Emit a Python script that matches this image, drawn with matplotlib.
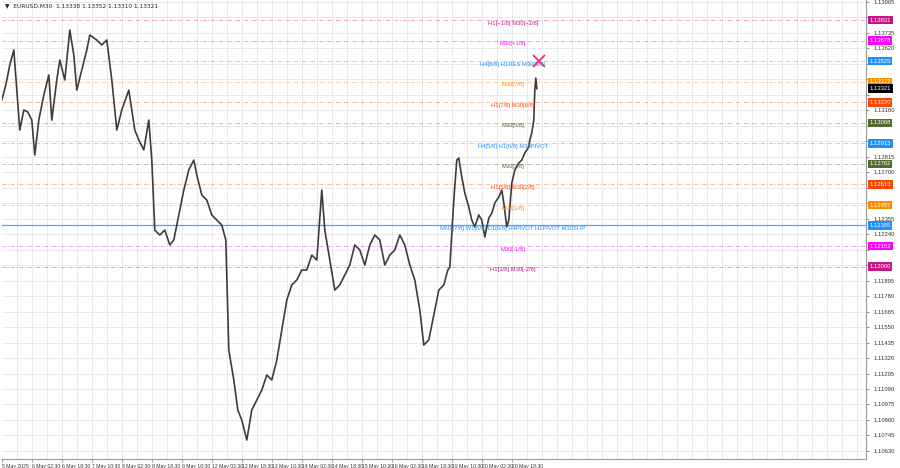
import matplotlib
matplotlib.use("Agg")
import matplotlib.pyplot as plt
import matplotlib.transforms as mtransforms
import numpy as np

plt.rcParams["font.family"] = ["Liberation Sans", "DejaVu Sans"]

# price path (bar position, close)
bar_pos = [0, 4, 8, 12, 15, 18, 22, 26, 30, 33, 37, 42, 47, 50, 55, 58, 63, 68, 72, 75,
           80, 85, 88, 95, 100, 105, 110, 115, 120, 127, 133, 137, 142, 147, 150, 153, 158, 163, 168, 172,
           177, 182, 187, 192, 195, 200, 205, 210, 215, 220, 224, 227, 232, 236, 240, 245, 250, 255, 260, 265,
           270, 275, 280, 285, 290, 295, 300, 305, 310, 315, 320, 323, 328, 333, 338, 343, 348, 353, 358, 363,
           368, 373, 378, 383, 388, 393, 398, 403, 408, 413, 418, 422, 427, 432, 437, 442, 446, 448, 452, 455,
           457, 460, 463, 467, 470, 473, 477, 480, 483, 487, 490, 493, 497, 500, 502, 505, 507, 510, 513, 517,
           520, 523, 527, 528, 530, 532, 533, 534, 535]
close = [1.13237, 1.13348, 1.13497, 1.13609, 1.13311, 1.13014, 1.13163, 1.13148, 1.13088, 1.12828,
         1.13088, 1.13274, 1.13423, 1.13088, 1.13386, 1.13534, 1.13386, 1.13757, 1.13571, 1.13311,
         1.13460, 1.13609, 1.13720, 1.13683, 1.13646, 1.13683, 1.13386, 1.13014, 1.13163, 1.13311,
         1.13014, 1.12940, 1.12866, 1.13088, 1.12791, 1.12271, 1.12234, 1.12271, 1.12160, 1.12197,
         1.12383, 1.12568, 1.12717, 1.12791, 1.12680, 1.12531, 1.12494, 1.12383, 1.12345, 1.12308,
         1.12197, 1.11380, 1.11157, 1.10934, 1.10859, 1.10711, 1.10934, 1.11008, 1.11082, 1.11194,
         1.11157, 1.11305, 1.11528, 1.11751, 1.11863, 1.11900, 1.11974, 1.11974, 1.12085, 1.12048,
         1.12568, 1.12271, 1.12048, 1.11825, 1.11863, 1.11937, 1.12011, 1.12160, 1.12123, 1.12011,
         1.12160, 1.12234, 1.12197, 1.12011, 1.12085, 1.12123, 1.12234, 1.12160, 1.12011, 1.11900,
         1.11677, 1.11417, 1.11454, 1.11640, 1.11825, 1.11863, 1.11974, 1.11996, 1.12494, 1.12791,
         1.12806, 1.12665, 1.12546, 1.12442, 1.12345, 1.12294, 1.12383, 1.12345, 1.12219, 1.12360,
         1.12397, 1.12472, 1.12516, 1.12568, 1.12472, 1.12294, 1.12345, 1.12620, 1.12717, 1.12769,
         1.12791, 1.12843, 1.12888, 1.12940, 1.12992, 1.13088, 1.13311, 1.13400, 1.13321]

time_labels = ["5 May 2025", "6 May 02:30", "6 May 18:30", "7 May 10:30", "8 May 02:30",
               "8 May 18:30", "9 May 10:30", "12 May 02:30", "12 May 18:30", "13 May 10:30",
               "14 May 02:30", "14 May 18:30", "15 May 10:30", "16 May 02:30", "16 May 18:30",
               "19 May 10:30", "20 May 02:30", "20 May 18:30"]

# Murrey-style levels drawn by the indicator
level_price = [1.13831, 1.13678, 1.13525, 1.13372, 1.13220, 1.13068, 1.12915,
               1.12762, 1.12610, 1.12457, 1.12305, 1.12152, 1.12000]
level_text = ["H1[+1/8] M30[+2/8]", "M30[+1/8]", "H4[8/8] H1RES M30[8/8]", "M30[7/8]",
              "H1[7/8] M30[6/8]", "M30[5/8]", "H4[5/8] H1[6/8] M30PIVOT", "M30[3/8]",
              "H1[5/8] M30[2/8]", "M30[1/8]",
              "MN1[7/8] W1[6/8] D1[6/8] H4PIVOT H1PIVOT M30SUP", "M30[-1/8]", "H1[3/8] M30[-2/8]"]
level_color = ["#c71585", "#ff00ff", "#1e90ff", "#ff8c00", "#ff4500", "#556b2f", "#1e90ff",
               "#556b2f", "#ff4500", "#ff8c00", "#1e90ff", "#ff00ff", "#c71585"]

last_price = 1.13321
header = "EURUSD,M30  1.13338 1.13352 1.13310 1.13321"

fig = plt.figure(figsize=(9, 4.68), dpi=100)
ax = fig.add_axes([0.002, 9 / 468, 864 / 900, 459 / 468])
ax.set_xlim(0, 864)
ax.set_ylim(1.10570, 1.13980)

# grid
yticks = np.round(np.arange(1.10630, 1.13966, 0.00115), 5)
for yv in yticks:
    ax.axhline(yv, color="#e6e6e6", lw=0.6, zorder=0)
for xv in np.arange(15, 864, 15):
    ax.axvline(xv, color="#e6e6e6", lw=0.6, zorder=0)

# levels
for p, txt, c in zip(level_price, level_text, level_color):
    if txt.startswith("MN1"):
        ax.axhline(p, color=c, lw=0.9, alpha=0.8, zorder=1)
    else:
        ax.axhline(p, color=c, lw=0.6, alpha=0.45, ls=(0, (5, 2, 1, 2)), zorder=1)
    ax.text(511, p - 0.00004, txt, color=c, fontsize=4.2, ha="center", va="top", zorder=3)

ax.plot(bar_pos, close, color="#3c3c3c", lw=1.2, zorder=2)
ax.plot([537], [level_price[2]], marker="x", ms=9, mew=1.3, color="#e8336d", zorder=4)

ax.text(3, 1.13980 - 0.00025, "\u25bc  " + header, fontsize=4.2, va="top", ha="left",
        color="#222222", family=["DejaVu Sans"])

# axes styling
for s in ["top", "left"]:
    ax.spines[s].set_visible(False)
ax.spines["right"].set_color("#9a9a9a")
ax.spines["bottom"].set_color("#9a9a9a")
ax.yaxis.tick_right()
boxed = level_price + [last_price]
ax.set_yticks(yticks)
ax.set_yticklabels([f"{v:.5f}" if min(abs(v - b) for b in boxed) > 0.00047 else "" for v in yticks])
ax.tick_params(axis="y", labelsize=4.2, length=2.5, pad=3, colors="#9a9a9a", labelcolor="#333333")
ax.set_xticks(np.arange(len(time_labels)) * 30)
ax.set_xticklabels(time_labels, ha="left")
ax.tick_params(axis="x", labelsize=3.7, length=2, pad=1.5, colors="#9a9a9a", labelcolor="#333333")

# highlighted price boxes on the scale
trans = mtransforms.blended_transform_factory(ax.transAxes, ax.transData)
for p, c in zip(level_price, level_color):
    ax.text(1.004, p, f"{p:.5f}", transform=trans, fontsize=4.2, color="white", va="center",
            ha="left", bbox=dict(boxstyle="square,pad=0.3", fc=c, ec="none"), clip_on=False, zorder=5)
ax.text(1.004, last_price, f"{last_price:.5f}", transform=trans, fontsize=4.2, color="white",
        va="center", ha="left", bbox=dict(boxstyle="square,pad=0.3", fc="black", ec="none"),
        clip_on=False, zorder=6)

fig.savefig("out.png", dpi=100)
